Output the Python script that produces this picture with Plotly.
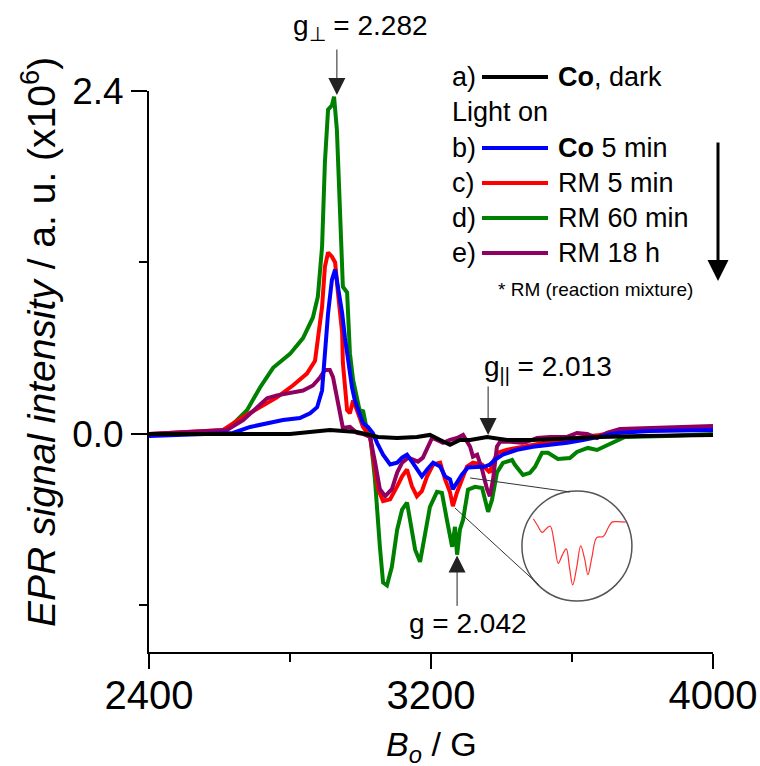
import plotly.graph_objects as go

# ---- EPR spectra: magnetic field (G) and signal intensity (a.u. x10^6) ----
field_a = [2400, 2600, 2800, 2913, 2990, 3050, 3104, 3160, 3197, 3226, 3254, 3282,
           3311, 3359, 3416, 3489, 3586, 3679, 3800, 4000]
signal_a = [0.0, 0.0, 0.0, 0.028, 0.014, -0.021, -0.028, -0.021, -0.007, -0.042, -0.076, -0.042,
            -0.042, -0.021, -0.042, -0.042, -0.028, -0.021, -0.014, -0.007]

field_b = [2400, 2638, 2687, 2735, 2780, 2828, 2857, 2877, 2891, 2899, 2908, 2919, 2928,
           2936, 2948, 2956, 2965, 2976, 2984, 2999, 3007, 3021, 3035, 3047, 3064, 3084,
           3104, 3118, 3132, 3146, 3160, 3174, 3189, 3206, 3226, 3240, 3254, 3262, 3274,
           3288, 3305, 3331, 3353, 3367, 3382, 3404, 3444, 3489, 3538, 3586, 3631, 3679,
           3728, 3821, 4000]
signal_b = [-0.014, 0.007, 0.049, 0.076, 0.097, 0.111, 0.145, 0.187, 0.304, 0.560, 0.845, 1.08, 1.15,
            1.03, 0.845, 0.671, 0.491, 0.325, 0.235, 0.118, 0.076, 0.049, 0.007, -0.062, -0.145, -0.214,
            -0.201, -0.166, -0.145, -0.194, -0.249, -0.297, -0.249, -0.201, -0.228, -0.297, -0.318, -0.387, -0.339,
            -0.284, -0.235, -0.228, -0.228, -0.214, -0.180, -0.145, -0.111, -0.090, -0.076, -0.062, -0.042, -0.021,
            0.007, 0.021, 0.028]

field_c = [2400, 2610, 2667, 2715, 2763, 2808, 2848, 2871, 2879, 2891, 2899, 2908, 2919,
           2928, 2936, 2948, 2950, 2962, 2970, 2979, 2990, 3007, 3027, 3035, 3050, 3064,
           3084, 3104, 3118, 3132, 3146, 3160, 3174, 3189, 3206, 3226, 3240, 3254, 3262,
           3274, 3288, 3302, 3319, 3345, 3359, 3367, 3376, 3390, 3416, 3444, 3489, 3538,
           3586, 3631, 3679, 3728, 3821, 4000]
signal_c = [0.0, 0.028, 0.118, 0.187, 0.256, 0.339, 0.422, 0.512, 0.655, 0.89, 1.17, 1.27, 1.24,
            1.20, 0.99, 0.707, 0.497, 0.166, 0.145, 0.235, 0.166, 0.049, -0.021, -0.159, -0.387, -0.470,
            -0.457, -0.367, -0.297, -0.249, -0.367, -0.436, -0.401, -0.297, -0.214, -0.201, -0.318, -0.408, -0.505,
            -0.408, -0.318, -0.228, -0.201, -0.214, -0.249, -0.270, -0.194, -0.131, -0.111, -0.097, -0.076, -0.055,
            -0.042, -0.021, -0.007, 0.014, 0.028, 0.042]

field_d = [2400, 2593, 2630, 2678, 2715, 2752, 2800, 2837, 2865, 2879, 2891, 2899, 2908,
           2919, 2925, 2933, 2942, 2950, 2962, 2970, 2979, 2990, 2999, 3007, 3018, 3027,
           3041, 3055, 3064, 3075, 3089, 3104, 3118, 3132, 3140, 3155, 3169, 3183, 3197,
           3217, 3231, 3245, 3260, 3268, 3274, 3282, 3291, 3305, 3325, 3345, 3356, 3362,
           3373, 3387, 3404, 3430, 3438, 3461, 3481, 3495, 3515, 3532, 3560, 3594, 3614,
           3645, 3671, 3699, 3728, 3750, 3870, 4000]
signal_d = [0.0, 0.0, 0.049, 0.166, 0.325, 0.463, 0.560, 0.671, 0.815, 0.96, 1.31, 1.90, 2.27,
            2.30, 2.36, 2.13, 1.55, 1.03, 0.99, 0.565, 0.378, 0.238, 0.147, 0.166, 0.028, 0.007,
            -0.318, -0.790, -1.04, -1.06, -0.93, -0.670, -0.530, -0.480, -0.600, -0.810, -0.895, -0.720, -0.510,
            -0.405, -0.412, -0.600, -0.790, -0.650, -0.845, -0.670, -0.600, -0.390, -0.370, -0.378, -0.482, -0.545,
            -0.462, -0.272, -0.203, -0.182, -0.216, -0.287, -0.272, -0.230, -0.132, -0.132, -0.175, -0.168, -0.126,
            -0.098, -0.112, -0.077, -0.042, -0.021, -0.014, 0.0]

field_e = [2400, 2621, 2667, 2706, 2735, 2763, 2800, 2837, 2865, 2885, 2899, 2913, 2922,
           2933, 2942, 2950, 2970, 2979, 2990, 3007, 3027, 3041, 3055, 3070, 3089, 3104,
           3118, 3135, 3149, 3163, 3177, 3191, 3203, 3217, 3234, 3254, 3274, 3291, 3311,
           3319, 3331, 3345, 3359, 3367, 3376, 3387, 3396, 3424, 3458, 3472, 3501, 3538,
           3586, 3614, 3643, 3671, 3699, 3736, 3821, 4000]
signal_e = [0.0, 0.028, 0.097, 0.180, 0.249, 0.270, 0.284, 0.304, 0.339, 0.394, 0.448, 0.448, 0.398,
            0.259, 0.118, 0.042, 0.049, 0.028, 0.007, 0.0, -0.021, -0.194, -0.387, -0.436, -0.387, -0.270,
            -0.201, -0.166, -0.180, -0.194, -0.166, -0.090, -0.028, -0.042, -0.062, -0.042, -0.028, -0.007, -0.090,
            -0.159, -0.145, -0.249, -0.387, -0.436, -0.318, -0.090, -0.055, -0.055, -0.062, -0.055, -0.028, -0.021,
            -0.021, 0.007, 0.0, -0.028, 0.007, 0.035, 0.042, 0.055]

# magnified view of the RM 5 min hyperfine lines near g = 2.042
inset_field = [3215, 3220, 3226, 3231, 3236, 3241, 3246, 3251, 3256, 3260, 3264, 3269,
               3274, 3279, 3283, 3288, 3294, 3302, 3308, 3313, 3320, 3330]
inset_signal = [-0.185, -0.215, -0.250, -0.232, -0.220, -0.300, -0.400, -0.360, -0.330, -0.420, -0.505, -0.420,
                -0.315, -0.380, -0.455, -0.370, -0.275, -0.270, -0.230, -0.200, -0.198, -0.200]

series = [
    ("d)", "RM 60 min", field_d, signal_d, "#008000"),
    ("c)", "RM 5 min", field_c, signal_c, "#ff0000"),
    ("e)", "RM 18 h", field_e, signal_e, "#900060"),
    ("b)", "<b>Co</b> 5 min", field_b, signal_b, "#0000ff"),
    ("a)", "<b>Co</b>, dark", field_a, signal_a, "#000000"),
]

x_ticks = [2400, 3200, 4000]
x_minor = [2800, 3600]
y_ticks = [0.0, 2.4]
y_tick_text = ["0.0", "2.4"]
y_minor = [-1.2, 1.2]

FONT = "Liberation Sans, Arial, sans-serif"
W, H = 760, 766
L, R, T, B = 149, 47, 91, 114
LINE_W = 4

fig = go.Figure()
for tag, name, fx, fy, col in series:
    fig.add_trace(go.Scatter(x=fx, y=fy, mode="lines", name=name,
                             line=dict(color=col, width=LINE_W), showlegend=False,
                             xaxis="x", yaxis="y"))

fig.add_trace(go.Scatter(x=inset_field, y=inset_signal, mode="lines",
                         line=dict(color="#ff3030", width=1.2, shape="spline"),
                         showlegend=False, xaxis="x2", yaxis="y2"))


def px(xp):
    return (xp - L) / (W - L - R)


def py(yp):
    return (H - B - yp) / (H - T - B)


fig.update_layout(
    width=W, height=H,
    margin=dict(l=L, r=R, t=T, b=B, autoexpand=False),
    paper_bgcolor="white", plot_bgcolor="white",
    font=dict(family=FONT, color="black"),
    xaxis=dict(range=[2400, 4000], domain=[0, 1], showline=True, linecolor="black", linewidth=2,
               showgrid=False, zeroline=False, ticks="outside", ticklen=15, tickwidth=2,
               tickcolor="black", tickmode="array", tickvals=x_ticks, automargin=False,
               ticklabelstandoff=-8,
               tickfont=dict(size=40, family=FONT),
               minor=dict(tickmode="array", tickvals=x_minor, ticks="outside", ticklen=8,
                          tickwidth=2, tickcolor="black")),
    yaxis=dict(range=[-1.526, 2.4], domain=[0, 1], showline=True, linecolor="black", linewidth=2,
               showgrid=False, zeroline=False, ticks="outside", ticklen=16, tickwidth=2,
               tickcolor="black", tickmode="array", tickvals=y_ticks, ticktext=y_tick_text,
               automargin=False,
               tickfont=dict(size=37, family=FONT),
               minor=dict(tickmode="array", tickvals=y_minor, ticks="outside", ticklen=8,
                          tickwidth=2, tickcolor="black")),
    xaxis2=dict(range=[3212, 3333], domain=[px(531), px(628)], visible=False, anchor="y2"),
    yaxis2=dict(range=[-0.51, -0.18], domain=[py(586), py(518)], visible=False, anchor="x2"),
)


def label(text, xp, yp, size, xanchor="center", angle=0):
    return dict(text=text, x=px(xp), y=py(yp), xref="paper", yref="paper",
                xanchor=xanchor, yanchor="middle", showarrow=False, textangle=angle,
                font=dict(size=size, family=FONT, color="black"))


def pointer(xv, yv, dy):
    return dict(text="", x=xv, y=yv, xref="x", yref="y", ax=0, ay=dy, showarrow=True,
                arrowhead=2, arrowsize=3.4, arrowwidth=1, arrowcolor="#222")


ann = []
# axis titles
ann.append(label("<i>EPR signal intensity</i> / a. u. (x10<sup>6</sup>)", 38, 342, 39, angle=-90))
ann.append(label("<i>B<sub>o</sub></i> / G", 431, 746, 34))

# g-value markers
ann.append(label("g<sub>\u22a5</sub> = 2.282", 360, 27, 28))
ann.append(pointer(2933, 2.372, -47))
ann.append(label("g<sub>||</sub> = 2.013", 548, 369, 28))
ann.append(pointer(3362, -0.007, -50))
ann.append(label("g = 2.042", 468, 623, 28))
ann.append(pointer(3274, -0.850, 52))

# legend block
rows = {"a)": 77, "b)": 148, "c)": 183, "d)": 218, "e)": 253}
shapes = []
for tag, name, fx, fy, col in series:
    yy = rows[tag]
    ann.append(label(tag, 450, yy, 27, xanchor="left"))
    ann.append(label(name, 556, yy, 27, xanchor="left"))
    shapes.append(dict(type="line", xref="paper", yref="paper", x0=px(482), x1=px(548),
                       y0=py(yy), y1=py(yy), line=dict(color=col, width=LINE_W)))
ann.append(label("Light on", 450, 112, 27, xanchor="left"))
ann.append(label("* RM (reaction mixture)", 595, 289, 19))
ann.append(dict(text="", x=px(718), y=py(281), xref="paper", yref="paper", ax=0, ay=-140,
                showarrow=True, arrowhead=2, arrowsize=1.4, arrowwidth=3, arrowcolor="black"))

# zoom circle and its guide lines
shapes.append(dict(type="circle", xref="x", yref="y", x0=3458, x1=3770, y0=-1.169, y1=-0.399,
                   line=dict(color="#555", width=1.5)))
shapes.append(dict(type="line", xref="x", yref="y", x0=3311, y0=-0.308, x1=3594, y1=-0.406,
                   line=dict(color="#333", width=1)))
shapes.append(dict(type="line", xref="x", yref="y", x0=3268, y0=-0.518, x1=3506, y1=-1.057,
                   line=dict(color="#333", width=1)))

fig.update_layout(annotations=ann, shapes=shapes)
fig.write_html("out.html")
